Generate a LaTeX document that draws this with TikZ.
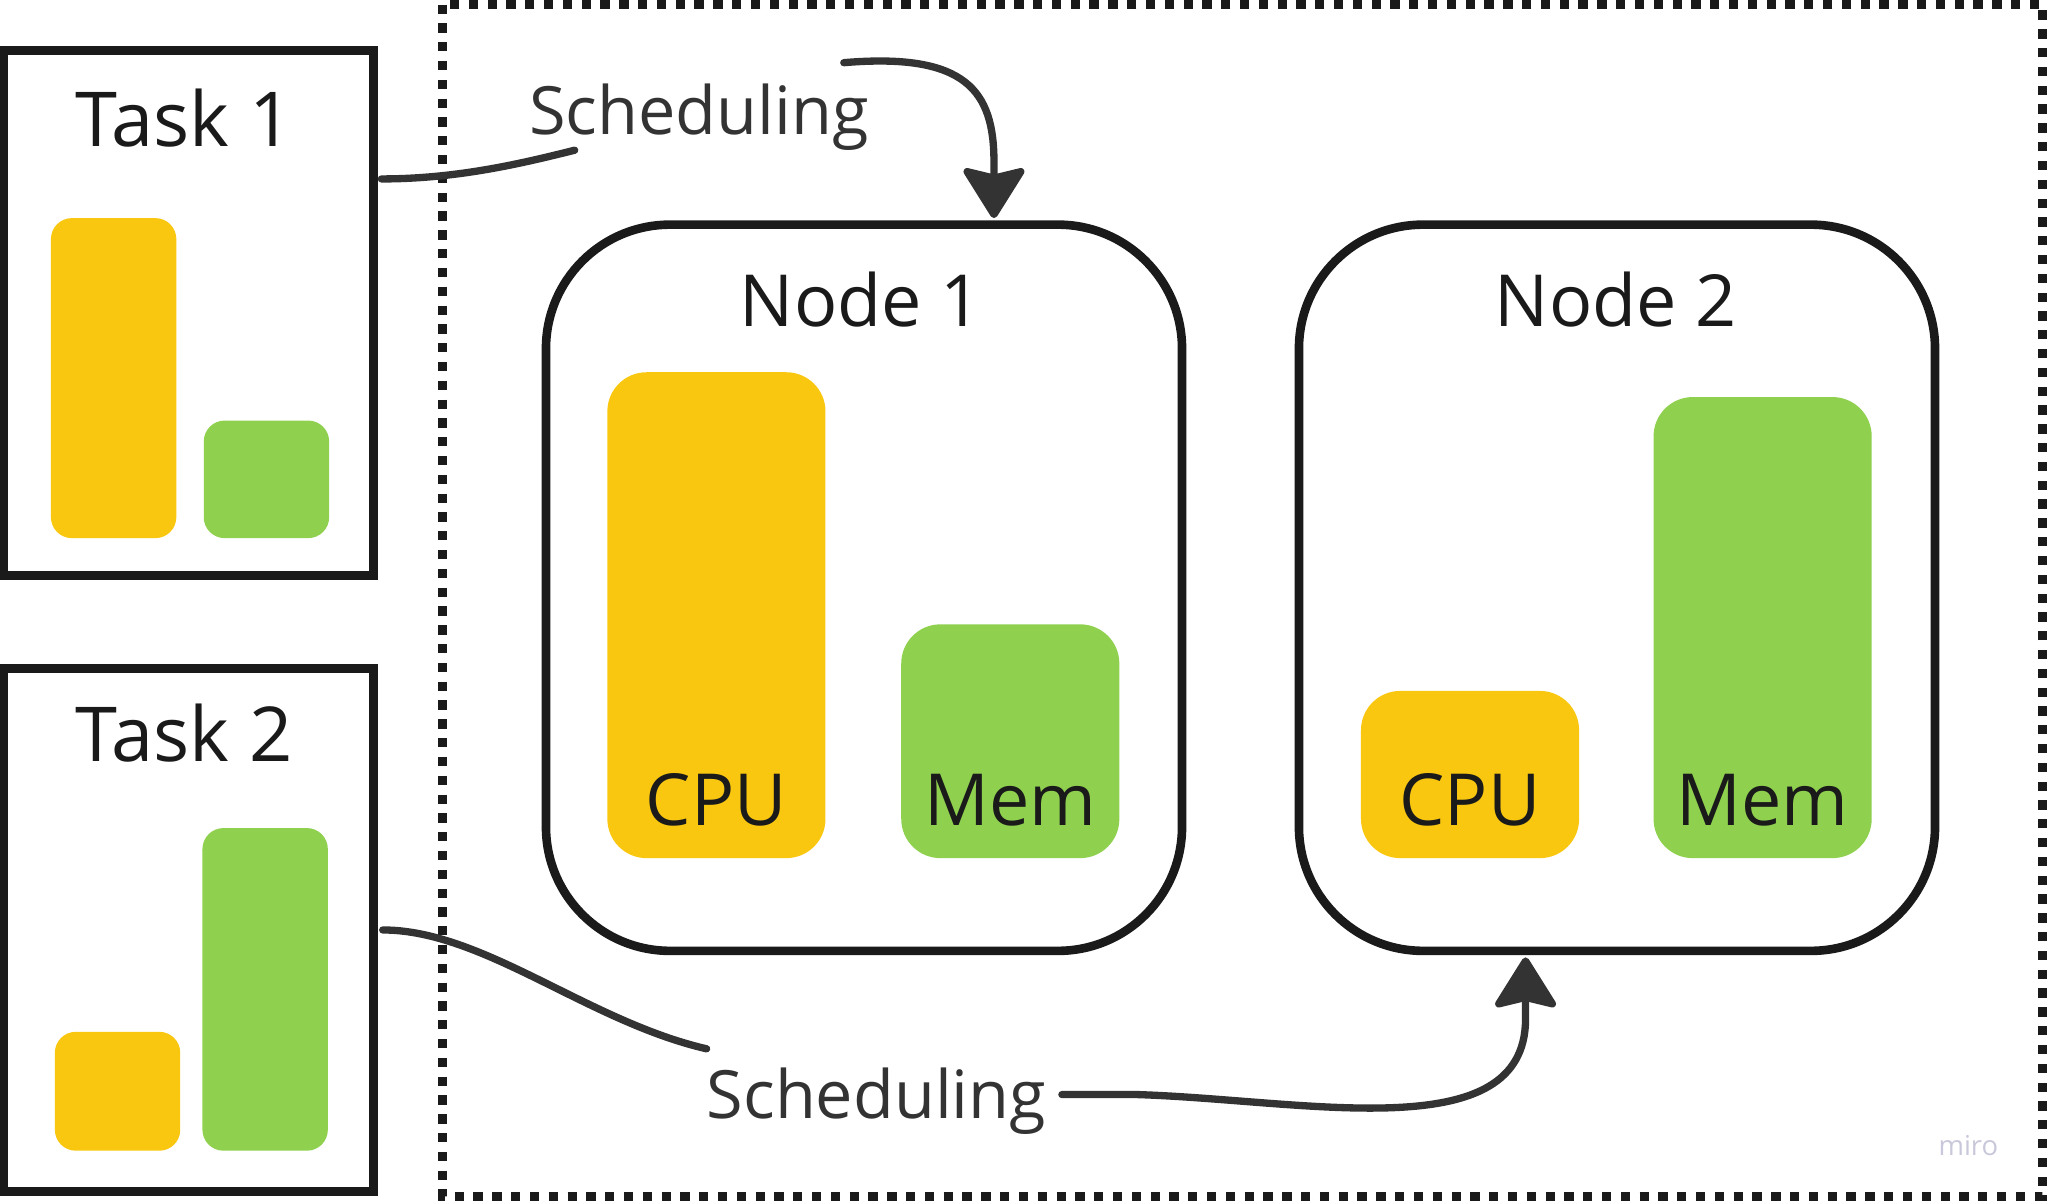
\documentclass[tikz,border=0pt]{standalone}
\usepackage{fontspec}
\setmainfont{Open Sans}
\usetikzlibrary{arrows.meta}
\definecolor{myyellow}{HTML}{FAC710}
\definecolor{mygreen}{HTML}{8FD14F}
\definecolor{ink}{HTML}{1A1A1A}
\definecolor{connc}{HTML}{333333}
\definecolor{wm}{HTML}{C8C8DA}
\begin{document}
\begin{tikzpicture}[x=0.5pt,y=-0.5pt,
  taskbox/.style={draw=ink, line width=3.4pt, inner sep=0pt, minimum width=141.5pt},
  nodebox/.style={draw=ink, line width=3.3pt, rounded corners=47.5pt, inner sep=0pt, minimum width=243.5pt, minimum height=278pt},
  smallbar/.style={inner sep=0pt, rounded corners=8pt, minimum width=48pt},
  bigbar/.style={inner sep=0pt, rounded corners=15pt, minimum width=83.5pt},
  tasktitle/.style={text=ink, font=\fontsize{29pt}{35pt}\selectfont, anchor=base, inner sep=0pt},
  nodetitle/.style={text=ink, font=\fontsize{27.5pt}{33pt}\selectfont, anchor=base, inner sep=0pt},
  barlabel/.style={text=ink, font=\fontsize{27.5pt}{33pt}\selectfont, anchor=base, inner sep=0pt},
  schedlabel/.style={text=connc, font=\fontsize{25.5pt}{31pt}\selectfont, anchor=base, inner sep=0pt},
  connector/.style={draw=connc, line width=2.8pt, line cap=round},
  arrowtip/.style={-{Stealth[length=21pt, width=26pt, inset=3pt, round]}}
]
\useasboundingbox (0,0) rectangle (1568,919.5);

% dotted frame
\draw[ink, line width=3.5pt, dash pattern=on 3.55pt off 3.65pt] (339,3.5) rectangle (1564,916);

% Task boxes
\node[taskbox, minimum height=201pt] (task1) at (144.5,239.5) {};
\node[taskbox, minimum height=200.25pt] (task2) at (144.5,711.75) {};
\node[tasktitle] (task1t) at (141,112) {Task 1};
\node[tasktitle] (task2t) at (141,583) {Task 2};
\node[smallbar, fill=myyellow, minimum height=122.5pt] (t1cpu) at (87,289.5) {};
\node[smallbar, fill=mygreen, minimum height=45pt] (t1mem) at (204,367) {};
\node[smallbar, fill=myyellow, minimum height=45.5pt] (t2cpu) at (90,835.5) {};
\node[smallbar, fill=mygreen, minimum height=123.5pt] (t2mem) at (203,757.5) {};

% Node boxes
\node[nodebox] (node1) at (661.5,450) {};
\node[nodebox] (node2) at (1238,450) {};
\node[nodetitle] (node1t) at (659,250) {Node 1};
\node[nodetitle] (node2t) at (1237,250) {Node 2};
\node[bigbar, fill=myyellow, minimum height=186pt] (n1cpu) at (548.5,471) {};
\node[bigbar, fill=mygreen, minimum height=89.5pt] (n1mem) at (773.5,567.5) {};
\node[bigbar, fill=myyellow, minimum height=64pt] (n2cpu) at (1125.5,593) {};
\node[bigbar, fill=mygreen, minimum height=176.5pt] (n2mem) at (1349.5,480.5) {};
\node[barlabel] (n1cpul) at (548.5,632) {CPU};
\node[barlabel] (n1meml) at (773.5,632) {Mem};
\node[barlabel] (n2cpul) at (1125.5,632) {CPU};
\node[barlabel] (n2meml) at (1349.5,632) {Mem};

% Scheduling labels
\node[schedlabel] (sched1) at (535,103) {Scheduling};
\node[schedlabel] (sched2) at (671,856) {Scheduling};

% connector end points
\coordinate (a1) at (292,137);
\coordinate (a2) at (440,115);
\coordinate (a3) at (646,48);
\coordinate (a4) at (761,124);
\coordinate (a5) at (761,167);
\coordinate (b1) at (293,712);
\coordinate (b2) at (541,803);
\coordinate (b3) at (813,838);
\coordinate (b4) at (1168,780);
\coordinate (b5) at (1168,733);

\draw[connector] (a1) .. controls (350,137) and (400,125) .. (a2);
\draw[connector, arrowtip] (a3) .. controls (740,40) and (761,70) .. (a4) -- (a5);
\draw[connector] (b1) .. controls (370,712) and (450,782) .. (b2);
\draw[connector, arrowtip] (b3) -- (870,838) .. controls (1000,842) and (1168,880) .. (b4) -- (b5);

% watermark
\node[text=wm, font=\fontsize{10.5pt}{12pt}\selectfont, inner sep=0pt] (miro) at (1507,877) {miro};
\end{tikzpicture}
\end{document}
